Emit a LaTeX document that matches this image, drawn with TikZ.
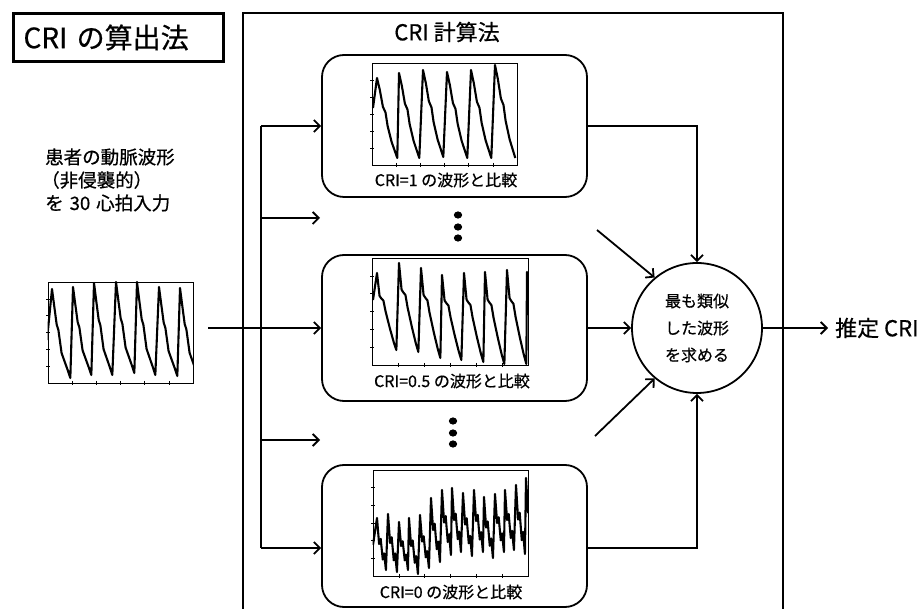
\documentclass[tikz,border=0pt]{standalone}
\usepackage{fontspec}
\setmainfont{Noto Sans CJK JP}[FakeBold=0.6]
\usetikzlibrary{arrows.meta}
\newcommand\wvticks[4]{%
  \foreach \k in {1,...,5}{%
    \draw[tickmk] ({#1-2},{#2+\k*(#4-#2)/6}) -- ++(4,0);
    \draw[tickmk] ({#1+\k*(#3-#1)/6},{#4-2}) -- ++(0,4);
  }}
\begin{document}
\begin{tikzpicture}[x=1pt,y=-1pt,
  lbl/.style={font=\fontsize{16}{18}\selectfont, inner sep=0},
  rbox/.style={draw, line width=1.8pt, rounded corners=22pt, minimum width=265pt, inner sep=0},
  pbox/.style={draw, line width=0.7pt, inner sep=0},
  tickmk/.style={line width=0.6pt},
  wave/.style={line width=2.1pt, line join=round},
  conn/.style={line width=1.8pt},
  arr/.style={conn, -{Straight Barb[length=6pt,width=12pt]}}
]
\fill[white] (0,0) rectangle (922,609);
\useasboundingbox (0,0) rectangle (922,609);

% title
\node (title) [draw, line width=3pt, anchor=north west, text width=190pt, inner xsep=10pt, inner ysep=0pt,
  minimum height=48pt, align=left, font=\fontsize{28}{30}\selectfont] at (12,12) {CRI の算出法};

% frame
\draw[conn] (243,612) -- (243,13) -- (783,13) -- (783,612);
\node (calc) [font=\fontsize{22}{24}\selectfont, inner sep=0] at (447,32) {CRI 計算法};

% left text
\node (t1) [anchor=west, font=\fontsize{18.5}{20}\selectfont, inner sep=0] at (45,157) {患者の動脈波形};
\node (t2) [anchor=west, font=\fontsize{18.5}{20}\selectfont, inner sep=0] at (41,180) {（非侵襲的）};
\node (t3) [anchor=west, font=\fontsize{18.5}{20}\selectfont, inner sep=0] at (45,203) {を\hspace{6pt}30\hspace{6pt}心拍入力};

% boxes
\node (b1) [rbox, minimum height=142pt] at (454.5,126) {};
\node (b2) [rbox, minimum height=146pt] at (454.5,328) {};
\node (b3) [rbox, minimum height=142pt] at (454.5,536) {};

\node (l1) [lbl] at (446,180) {CRI=1 の波形と比較};
\node (l2) [lbl] at (452,381) {CRI=0.5 の波形と比較};
\node (l3) [lbl] at (451,592) {CRI=0 の波形と比較};

% plots
\node (p0) [pbox, minimum width=145pt, minimum height=101pt] at (120.5,332.5) {};
\node (p1) [pbox, minimum width=145pt, minimum height=102pt] at (444.5,114) {};
\node (p2) [pbox, minimum width=156pt, minimum height=107pt] at (450,311.5) {};
\node (p3) [pbox, minimum width=155pt, minimum height=106pt] at (450.5,523) {};
\wvticks{48}{282}{193}{383}
\wvticks{372}{63}{517}{165}
\wvticks{372}{258}{528}{365}
\wvticks{373}{470}{528}{576}

\begin{scope}
\clip (p0.south west) rectangle (p0.north east);
\def\P{21.3}
\draw[wave] (47,340) \foreach \px/\py/\ty in {52/289/378,73/287/375,94/283/375,116/282/373,137/282/375,159/287/376,180/288/378}{
  -- (\px,\py) -- ({\px+0.12*\P},{\py+0.22*(\ty-\py)}) -- ({\px+0.22*\P},{\py+0.40*(\ty-\py)})
  -- ({\px+0.3*\P},{\py+0.46*(\ty-\py)}) -- ({\px+0.45*\P},{\py+0.72*(\ty-\py)})
  -- ({\px+0.6*\P},{\py+0.82*(\ty-\py)}) -- ({\px+0.75*\P},{\py+0.92*(\ty-\py)}) -- ({\px+0.86*\P},\ty)};
\end{scope}

\begin{scope}
\clip (p1.south west) rectangle (p1.north east);
\def\P{23.6}
\draw[wave] (373,108) \foreach \px/\py/\ty in {377/78/158,399/73/158,423/70/157,447/72/158,471/70/158,495/65/158}{
  -- (\px,\py) -- ({\px+0.12*\P},{\py+0.15*(\ty-\py)}) -- ({\px+0.25*\P},{\py+0.36*(\ty-\py)})
  -- ({\px+0.36*\P},{\py+0.43*(\ty-\py)}) -- ({\px+0.45*\P},{\py+0.6*(\ty-\py)})
  -- ({\px+0.62*\P},{\py+0.8*(\ty-\py)}) -- ({\px+0.86*\P},\ty)};
\end{scope}

\begin{scope}
\clip (p2.south west) rectangle (p2.north east);
\def\P{21.5}
\draw[wave] (373,300) \foreach \px/\py/\ty in {377/273/350,399/263/352,421/268/358,442/275/360,464/273/362,485/272/364,507/270/364,527/272/350}{
  -- (\px,\py) -- ({\px+0.12*\P},{\py+0.3*(\ty-\py)}) -- ({\px+0.2*\P},{\py+0.33*(\ty-\py)})
  -- ({\px+0.3*\P},{\py+0.36*(\ty-\py)}) -- ({\px+0.4*\P},{\py+0.5*(\ty-\py)})
  -- ({\px+0.6*\P},{\py+0.72*(\ty-\py)}) -- ({\px+0.78*\P},{\py+0.9*(\ty-\py)}) -- ({\px+0.9*\P},\ty)};
\end{scope}

\begin{scope}
\clip (p3.south west) rectangle (p3.north east);
\def\P{10.5}
\draw[wave] (373,545) \foreach \px/\py/\ty in {377/518/570,388/514/572,399/522/570,409/518/574,420/515/568,431/498/562,442/490/555,452/488/552,463/493/556,474/490/552,484/497/558,495/494/552,505/490/550,516/485/554,526/478/547}{
  -- (\px,\py) -- ({\px+0.2*\P},{\py+0.5*(\ty-\py)}) -- ({\px+0.35*\P},{\py+0.4*(\ty-\py)})
  -- ({\px+0.55*\P},{\py+0.8*(\ty-\py)}) -- ({\px+0.68*\P},{\py+0.68*(\ty-\py)}) -- ({\px+0.85*\P},\ty)};
\end{scope}

% dots
\foreach \yy in {215,227,238} \fill (458,\yy) ellipse [x radius=4.2pt, y radius=3.6pt];
\foreach \yy in {421,433,444} \fill (453,\yy) ellipse [x radius=4.2pt, y radius=3.6pt];

% circle
\node (c) [circle, draw, line width=1.8pt, minimum size=130pt, inner sep=0, align=center,
  font=\fontsize{16}{27}\selectfont] at (697,328) {最も類似\\した波形\\を求める};
\node (out) [anchor=west, font=\fontsize{22}{24}\selectfont, inner sep=0] at (835,328) {推定 CRI};

% connectors
\coordinate (in) at (208,328);
\coordinate (j1) at (261,126);
\coordinate (j2) at (261,218);
\coordinate (j4) at (261,440);
\coordinate (j5) at (261,548);
\coordinate (e2) at (320,218);
\coordinate (e4) at (320,440);
\coordinate (d1) at (597,230);
\coordinate (d2) at (595,436);

\draw[arr] (in) -- (b2.west);
\draw[conn] (j1) -- (j5);
\draw[arr] (j1) -- (b1.west);
\draw[arr] (j2) -- (e2);
\draw[arr] (j4) -- (e4);
\draw[arr] (j5) -- (j5 -| b3.west);
\draw[arr] (b1.east) -| (c.north);
\draw[arr] (b2.east) -- (c.west);
\draw[arr] (j5 -| b3.east) -| (c.south);
\draw[arr] (d1) -- (c.130);
\draw[arr] (d2) -- (c.230);
\draw[arr] (c.east) -- ([xshift=-7pt]out.west);
\end{tikzpicture}
\end{document}
